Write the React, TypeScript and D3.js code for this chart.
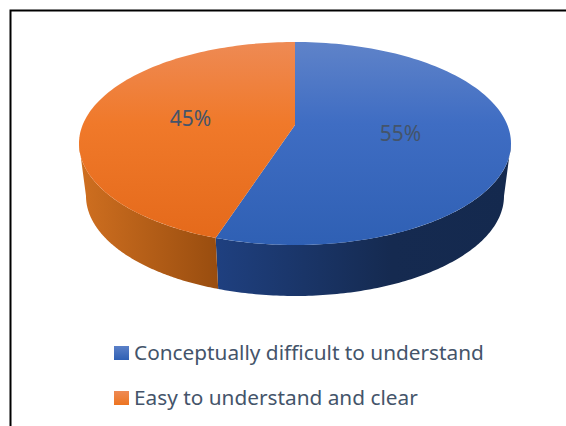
import React from "react";
import * as d3 from "d3";

const categories = ["Conceptually difficult to understand", "Easy to understand and clear"];
const values = [55, 45];
const labels = ["55%", "45%"];

const W = 566, H = 426;
const top = { cx: 295, cy: 143.5, rx: 216, ry: 101.5 };
const bottom = { cx: 295, cy: 196, rx: 209, ry: 100 };
const k = -0.182; // perspective shift of the pie centre
const s = Math.sqrt(1 - k * k);

type E = typeof top;
const project = (e: E, theta: number, r = 1): [number, number] => {
  const u = r * Math.sin(theta), v = -r * Math.cos(theta);
  const w = 1 + k * v;
  return [e.cx + (e.rx * s * u) / w, e.cy + (e.ry * (v + k)) / w];
};
const samples = (a: number, b: number) => d3.range(0, 121).map((i) => a + ((b - a) * i) / 120);

const arcs = d3.pie<number>().sort(null)(values);
const line = d3.line();
const sideA = Math.acos(k);
const sideB = 2 * Math.PI - sideA;

const topPath = (a: number, b: number) =>
  line([project(top, a, 0), ...samples(a, b).map((t) => project(top, t))])! + "Z";
const sidePath = (a: number, b: number) =>
  line([
    ...samples(a, b).map((t) => project(top, t)),
    ...samples(a, b).reverse().map((t) => project(bottom, t)),
  ])! + "Z";

const font = "'Noto Sans', sans-serif";
const gradIds = ["Blue", "Orange"];

export default function App() {
  const legendY = [353, 398];
  return (
    <svg width={W} height={H} style={{ position: "absolute", left: 0, top: 0, background: "#fff" }}>
      <defs>
        <linearGradient id="topBlue" gradientUnits="userSpaceOnUse" x1={0} x2={0} y1={42} y2={245}>
          <stop offset="0" stopColor="#5f83c9" />
          <stop offset="0.4" stopColor="#3f6dc3" />
          <stop offset="1" stopColor="#2f60b4" />
        </linearGradient>
        <linearGradient id="topOrange" gradientUnits="userSpaceOnUse" x1={0} x2={0} y1={42} y2={245}>
          <stop offset="0" stopColor="#ee8a54" />
          <stop offset="0.4" stopColor="#f0792a" />
          <stop offset="1" stopColor="#e4691a" />
        </linearGradient>
        <linearGradient id="sideBlue" gradientUnits="userSpaceOnUse" x1={215} x2={510} y1={0} y2={0}>
          <stop offset="0" stopColor="#1f4080" />
          <stop offset="0.6" stopColor="#152a50" />
          <stop offset="1" stopColor="#14294e" />
        </linearGradient>
        <linearGradient id="sideOrange" gradientUnits="userSpaceOnUse" x1={80} x2={217} y1={0} y2={0}>
          <stop offset="0" stopColor="#cf6f20" />
          <stop offset="1" stopColor="#994d0f" />
        </linearGradient>
        <linearGradient id="legBlue" x1={0} x2={0} y1={0} y2={1}>
          <stop offset="0" stopColor="#5b80c8" />
          <stop offset="1" stopColor="#2f60b4" />
        </linearGradient>
        <linearGradient id="legOrange" x1={0} x2={0} y1={0} y2={1}>
          <stop offset="0" stopColor="#ee8a54" />
          <stop offset="1" stopColor="#ed7420" />
        </linearGradient>
      </defs>

      <path d={`M566,10.5H10.5V426`} fill="none" stroke="#000" strokeWidth={2} />

      {arcs.map((a, i) => {
        const from = Math.max(a.startAngle, sideA);
        const to = Math.min(a.endAngle, sideB);
        return <path key={i} d={sidePath(from, to)} fill={`url(#side${gradIds[i]})`} />;
      })}
      {arcs.map((a, i) => (
        <path key={i} d={topPath(a.startAngle, a.endAngle)} fill={`url(#top${gradIds[i]})`} />
      ))}

      {arcs.map((a, i) => {
        const [x, y] = project(top, (a.startAngle + a.endAngle) / 2, 0.5);
        return (
          <text key={i} x={x - 1} y={y + 3} textAnchor="middle" fontFamily={font} fontSize={21} fill="#44546a" dominantBaseline="middle">
            {labels[i]}
          </text>
        );
      })}

      {categories.map((c, i) => (
        <g key={c}>
          <rect x={114} y={legendY[i] - 7} width={15} height={14} fill={`url(#leg${gradIds[i]})`} />
          <text x={134} y={legendY[i] + 7} fontFamily={font} fontSize={20.8} fill="#44546a">
            {c}
          </text>
        </g>
      ))}
    </svg>
  );
}
